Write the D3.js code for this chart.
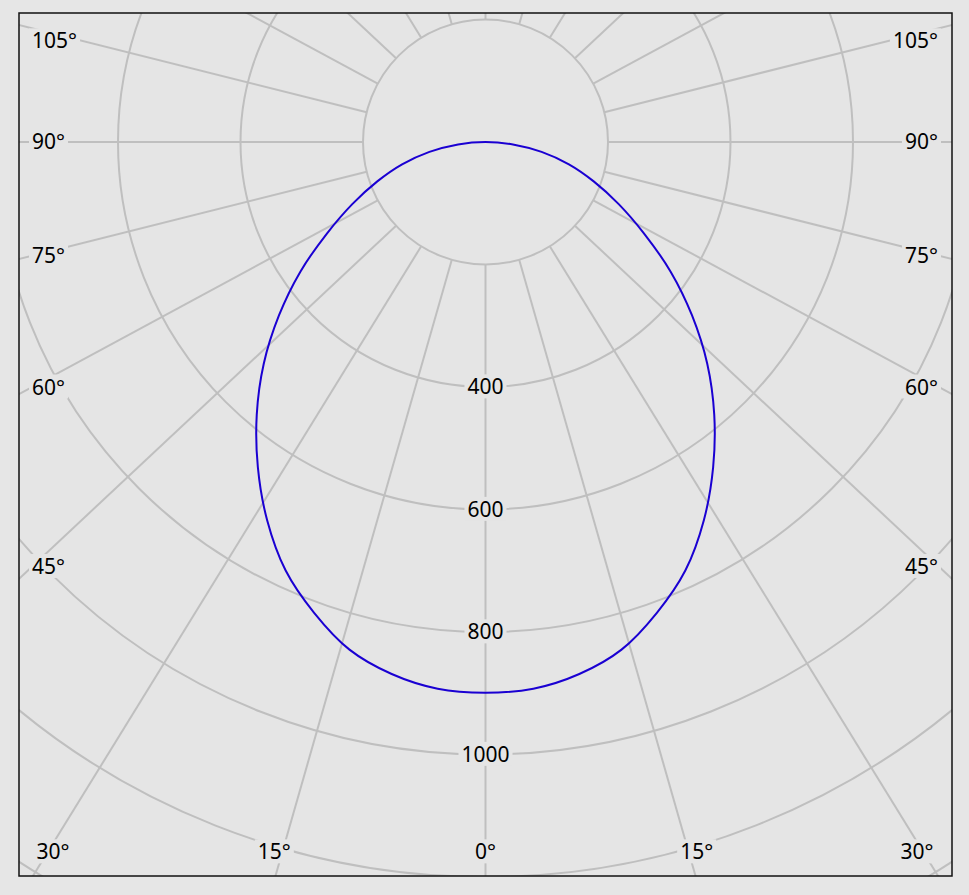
<!DOCTYPE html>
<html>
<head>
<meta charset="utf-8">
<script src="https://cdn.jsdelivr.net/npm/d3@7"></script>
<style>
  html, body { margin: 0; padding: 0; background: #e6e6e6; }
  svg { display: block; }
  text { font-family: "Noto Sans", sans-serif; font-size: 21px; fill: #000; }
</style>
</head>
<body>
<svg id="chart" width="969" height="895"></svg>
<script>
// gamma angles (deg) and luminous intensity (cd), symmetric plane
const gamma   = [0, 5, 10, 15, 20, 25, 30, 35, 40, 45, 50, 55, 60, 65, 70, 75, 80, 85, 90];
const candela = [899, 896, 882, 858, 818, 772, 713, 648, 581, 512, 440, 369, 299, 240, 188, 141, 93, 45, 0];

const rings       = [200, 400, 600, 800, 1000, 1200, 1400];
const ringLabels  = [400, 600, 800, 1000];
const spokeAngles = d3.range(0, 360, 15);
const angleLabels = [0, 15, 30, 45, 60, 75, 90, 105];

const frame = { x: 19, y: 13, w: 933, h: 863 };
const cx = frame.x + frame.w / 2, cy = 142;
const spokeAspect = 1.068;   // the spokes are drawn slightly stretched sideways

const svg = d3.select("#chart");
const rad = d3.scaleLinear().domain([0, 1000]).range([0, 612.5]);
const toRad = d => d * Math.PI / 180;

svg.append("defs").append("clipPath").attr("id", "clip")
  .append("rect")
  .attr("x", frame.x).attr("y", frame.y)
  .attr("width", frame.w).attr("height", frame.h);

svg.append("rect")
  .attr("x", frame.x).attr("y", frame.y)
  .attr("width", frame.w).attr("height", frame.h)
  .attr("fill", "#e5e5e5");

const g = svg.append("g").attr("clip-path", "url(#clip)");

//////////////////////// grille ////////////////////////
g.selectAll(".ring")
  .data(rings)
  .enter().append("circle")
  .attr("class", "ring")
  .attr("cx", cx).attr("cy", cy)
  .attr("r", d => rad(d))
  .attr("fill", "none")
  .attr("stroke", "#bfbfbf")
  .attr("stroke-width", 2);

function spokeDir(a) {
  const dx = spokeAspect * Math.sin(toRad(a)), dy = Math.cos(toRad(a));
  const n = Math.hypot(dx, dy);
  return [dx / n, dy / n];
}

g.selectAll(".spoke")
  .data(spokeAngles)
  .enter().append("line")
  .attr("class", "spoke")
  .attr("x1", d => cx + spokeDir(d)[0] * rad(rings[0]))
  .attr("y1", d => cy + spokeDir(d)[1] * rad(rings[0]))
  .attr("x2", d => cx + spokeDir(d)[0] * 2000)
  .attr("y2", d => cy + spokeDir(d)[1] * 2000)
  .attr("stroke", "#bfbfbf")
  .attr("stroke-width", 2);

//////////////////////// courbe ////////////////////////
// one closed loop: -85 .. 90 (the 90 point is the centre, shared by both sides)
const loop = [];
gamma.forEach((a, i) => { if (a > 0 && a < 90) loop.push([-a, candela[i]]); });
gamma.forEach((a, i) => loop.push([a, candela[i]]));
loop.sort((p, q) => p[0] - q[0]);

const line = d3.line()
  .x(d => cx + rad(d[1]) * Math.sin(toRad(d[0])))
  .y(d => cy + rad(d[1]) * Math.cos(toRad(d[0])))
  .curve(d3.curveCatmullRomClosed);

g.append("path")
  .datum(loop)
  .attr("d", line)
  .attr("fill", "none")
  .attr("stroke", "#1a00d2")
  .attr("stroke-width", 2);

//////////////////////// étiquettes ////////////////////////
function addLabel(txt, x, y, anchor) {
  const grp = svg.append("g");
  const t = grp.append("text")
    .attr("x", x).attr("y", y)
    .attr("dy", "0.35em")
    .attr("text-anchor", anchor)
    .text(txt);
  const b = t.node().getBBox();
  grp.insert("rect", "text")
    .attr("x", b.x - 3).attr("y", b.y + 2)
    .attr("width", b.width + 6).attr("height", b.height - 4)
    .attr("fill", "#e5e5e5");
}

ringLabels.forEach(v => addLabel(v, cx, cy + rad(v), "middle"));

const xL = 32, xR = 938, yT = 41, yB = 852;
angleLabels.forEach(a => {
  [-1, 1].forEach(side => {
    if (a === 0 && side === 1) return;
    const [dx, dy] = spokeDir(a);
    const tSide = (cx - xL) / Math.max(dx, 1e-9);
    const tBot = dy > 0 ? (yB - cy) / dy : Infinity;
    if (tBot < tSide) {
      let x = cx + side * (dx * tBot + (a > 0 && a < 30 ? 8 : 0));
      x = Math.max(xL + 21, Math.min(xR - 21, x));
      addLabel(a + "°", x, yB, "middle");
    } else {
      let y = cy + dy * tSide;
      y = Math.max(yT, Math.min(yB, y));
      addLabel(a + "°", side < 0 ? xL : xR, y, side < 0 ? "start" : "end");
    }
  });
});

svg.append("rect")
  .attr("x", frame.x).attr("y", frame.y)
  .attr("width", frame.w).attr("height", frame.h)
  .attr("fill", "none")
  .attr("stroke", "#111")
  .attr("stroke-width", 1.5);
</script>
</body>
</html>
